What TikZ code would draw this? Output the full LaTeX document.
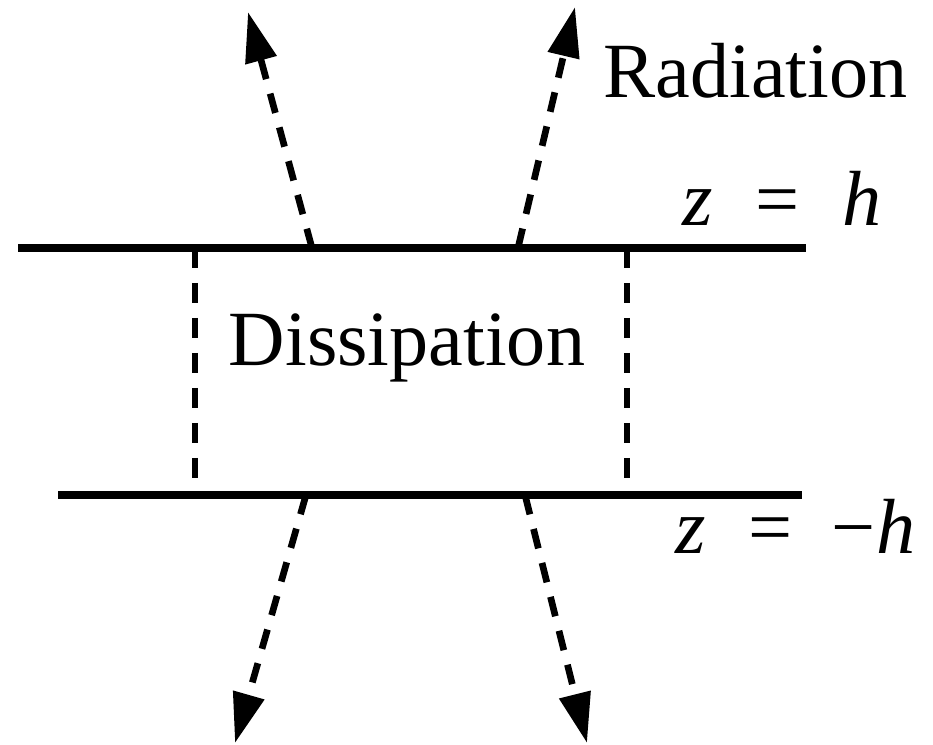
\documentclass[tikz,border=0pt]{standalone}
\usepackage{fontspec}
\setmainfont{Liberation Serif}
\usetikzlibrary{arrows.meta,positioning}

\begin{document}
\begin{tikzpicture}[x=0.02cm,y=-0.02cm,
  font=\fontsize{44.5}{50}\selectfont,
  wall/.style={line width=4.4pt},
  border/.style={line width=3.6pt, dash pattern=on 0.4cm off 0.3cm},
  ray/.style={line width=3.8pt, dash pattern=on 0.4cm off 0.3cm, -{Triangle[length=1cm,width=0.62cm]}}]
\useasboundingbox (0,0) rectangle (933,744);
% plates z = h and z = -h
\coordinate (ta) at (18,248); \coordinate (tb) at (806,248);
\coordinate (ba) at (58,495); \coordinate (bb) at (802,495);
\draw[wall] (ta) -- (tb);
\draw[wall] (ba) -- (bb);
% dissipation region
\coordinate (tl) at (195,248); \coordinate (bl) at (195,495);
\coordinate (tr) at (627,248); \coordinate (br) at (627,495);
\draw[border] (tl) -- (bl);
\draw[border] (tr) -- (br);
\node[anchor=base, inner sep=0pt] (diss) at (407,365) {Dissipation};
% radiation leaving both plates
\coordinate (ua) at (312,248); \coordinate (uatip) at (248,12);
\coordinate (ub) at (518,248); \coordinate (ubtip) at (575,7);
\coordinate (da) at (306,495); \coordinate (datip) at (235,743);
\coordinate (db) at (525,495); \coordinate (dbtip) at (587,743);
\foreach \s in {ua, ub, da, db}
  \draw[ray] (\s) -- (\s tip);
\node[anchor=base west, inner sep=0pt] (rad) at (603,97) {Radiation};
% plate labels
\node[anchor=base west, inner sep=0pt] (zh) at (682,225) {\textit{z}\hspace{0.55em}=\hspace{0.55em}\textit{h}};
\node[anchor=base west, inner sep=0pt] (zmh) at (675,553) {\textit{z}\hspace{0.55em}=\hspace{0.5em}−\textit{h}};
\end{tikzpicture}
\end{document}
